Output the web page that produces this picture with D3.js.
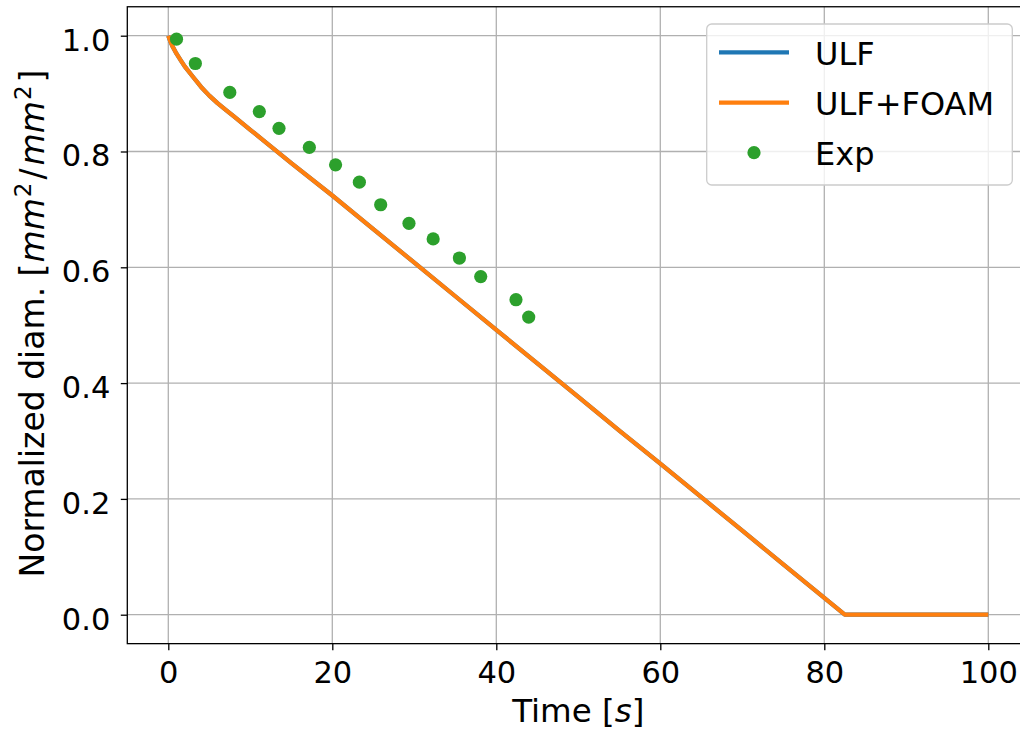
<!DOCTYPE html>
<html>
<head>
<meta charset="utf-8">
<script src="https://cdn.jsdelivr.net/npm/d3@7"></script>
<style>
  html, body { margin: 0; padding: 0; background: #fff; }
  svg { display: block; font-family: "DejaVu Sans", sans-serif; }
</style>
</head>
<body>
<svg id="chart" width="1020" height="731"></svg>
<script>
// ---- Data ----
const simTime = [0, 0.25, 0.5, 1, 1.5, 2, 3, 4, 5, 6, 7, 8, 10, 12, 15, 20, 25, 30, 35, 40, 45, 50, 55, 60, 65, 70, 75, 80, 82.5, 85, 90, 95, 100];
const ulfValues = [1.0, 0.990, 0.982, 0.969, 0.958, 0.947, 0.929, 0.9115, 0.8965, 0.8835, 0.872, 0.8605, 0.8375, 0.8145, 0.780, 0.724, 0.666, 0.608, 0.550, 0.492, 0.434, 0.376, 0.318, 0.261, 0.203, 0.145, 0.087, 0.029, 0.0, 0.0, 0.0, 0.0, 0.0];
const ulfFoamValues = [1.0, 0.990, 0.982, 0.969, 0.958, 0.947, 0.929, 0.9115, 0.8965, 0.8835, 0.872, 0.8605, 0.8375, 0.8145, 0.780, 0.724, 0.666, 0.608, 0.550, 0.492, 0.434, 0.376, 0.318, 0.261, 0.203, 0.145, 0.087, 0.029, 0.0, 0.0, 0.0, 0.0, 0.0];
const expTime = [1.0, 3.3, 7.5, 11.1, 13.5, 17.2, 20.4, 23.3, 25.9, 29.35, 32.3, 35.5, 38.1, 42.4, 43.95];
const expValues = [0.994, 0.952, 0.902, 0.869, 0.840, 0.807, 0.777, 0.747, 0.708, 0.676, 0.649, 0.616, 0.584, 0.544, 0.514];
const xTicks = [0, 20, 40, 60, 80, 100];
const yTicks = [0.0, 0.2, 0.4, 0.6, 0.8, 1.0];
const legendLabels = ["ULF", "ULF+FOAM", "Exp"];

// ---- Layout ----
const pLeft = 127.3, pRight = 1029.3, pTop = 6.75, pBottom = 643.65;
const FS = 30.5, LFS = 32.5, YFS = 33, GFS = 32;
const svg = d3.select("#chart");
const x = d3.scaleLinear().domain([-5, 105]).range([pLeft, pRight]);
const y = d3.scaleLinear().domain([-0.05, 1.05]).range([pBottom, pTop]);

// grid
const grid = svg.append("g");
grid.selectAll(".gx").data(xTicks).join("line")
  .attr("x1", d => x(d)).attr("x2", d => x(d)).attr("y1", pTop).attr("y2", pBottom)
  .attr("stroke", "#b0b0b0").attr("stroke-width", 1.3);
grid.selectAll(".gy").data(yTicks).join("line")
  .attr("y1", d => y(d)).attr("y2", d => y(d)).attr("x1", pLeft).attr("x2", pRight)
  .attr("stroke", "#b0b0b0").attr("stroke-width", 1.3);

// lines
const line = d3.line().x(d => x(d[0])).y(d => y(d[1]));
svg.append("path").datum(simTime.map((t, i) => [t, ulfValues[i]]))
  .attr("d", line).attr("fill", "none").attr("stroke", "#1f77b4").attr("stroke-width", 4.2)
  .attr("stroke-linejoin", "round").attr("stroke-linecap", "butt");
svg.append("path").datum(simTime.map((t, i) => [t, ulfFoamValues[i]]))
  .attr("d", line).attr("fill", "none").attr("stroke", "#ff7f0e").attr("stroke-width", 4.2)
  .attr("stroke-linejoin", "round").attr("stroke-linecap", "butt");

// exp dots
svg.append("g").selectAll("circle").data(expTime.map((t, i) => [t, expValues[i]])).join("circle")
  .attr("cx", d => x(d[0])).attr("cy", d => y(d[1])).attr("r", 6.6).attr("fill", "#2ca02c");

// spines
svg.append("rect").attr("x", pLeft).attr("y", pTop).attr("width", pRight - pLeft).attr("height", pBottom - pTop)
  .attr("fill", "none").attr("stroke", "#000").attr("stroke-width", 1.3);

// axes
const xAxis = d3.axisBottom(x).tickValues(xTicks).tickSize(6.5).tickPadding(11).tickFormat(d3.format("d"));
const gx = svg.append("g").attr("transform", `translate(0,${pBottom})`).call(xAxis);
gx.select(".domain").remove();
gx.selectAll(".tick line").attr("stroke", "#000").attr("stroke-width", 1.3);
gx.selectAll(".tick text").attr("font-size", FS).attr("fill", "#000").attr("font-family", "DejaVu Sans");

const yAxis = d3.axisLeft(y).tickValues(yTicks).tickSize(6.5).tickPadding(10.5).tickFormat(d3.format(".1f"));
const gy = svg.append("g").attr("transform", `translate(${pLeft},0)`).call(yAxis);
gy.select(".domain").remove();
gy.selectAll(".tick line").attr("stroke", "#000").attr("stroke-width", 1.3);
gy.selectAll(".tick text").attr("font-size", FS).attr("fill", "#000").attr("font-family", "DejaVu Sans")
  .attr("dy", null).attr("y", 14.3);

// axis labels
const xl = svg.append("text").attr("x", (pLeft + pRight) / 2).attr("y", 722).attr("text-anchor", "middle")
  .attr("font-size", LFS).attr("fill", "#000");
xl.append("tspan").text("Time [");
xl.append("tspan").attr("font-style", "italic").text("s");
xl.append("tspan").text("]");

const yl = svg.append("text").attr("transform", `translate(43.5,${(65 + 582) / 2}) rotate(-90)`)
  .attr("text-anchor", "middle").attr("font-size", YFS).attr("fill", "#000");
yl.append("tspan").text("Normalized diam. [");
yl.append("tspan").attr("font-style", "italic").attr("dx", 1).text("mm");
yl.append("tspan").attr("font-size", YFS * 0.7).attr("dx", 1).attr("dy", -13).text("2");
yl.append("tspan").attr("dx", 3).attr("dy", 13).text("/");
yl.append("tspan").attr("font-style", "italic").attr("dx", 3).text("mm");
yl.append("tspan").attr("font-size", YFS * 0.7).attr("dx", 1).attr("dy", -13).text("2");
yl.append("tspan").attr("dx", 3).attr("dy", 13).text("]");

// legend
const lg = svg.append("g");
lg.append("rect").attr("x", 706.7).attr("y", 24).attr("width", 305.6).attr("height", 161).attr("rx", 5)
  .attr("fill", "#fff").attr("fill-opacity", 0.8).attr("stroke", "#cccccc").attr("stroke-width", 1.3);
const legendColors = ["#1f77b4", "#ff7f0e", "#2ca02c"];
const rowY = [52.3, 102.7, 152.7];
legendLabels.forEach((lab, i) => {
  if (i < 2) {
    lg.append("line").attr("x1", 719).attr("x2", 789).attr("y1", rowY[i]).attr("y2", rowY[i])
      .attr("stroke", legendColors[i]).attr("stroke-width", 4.2);
  } else {
    lg.append("circle").attr("cx", 754).attr("cy", rowY[i]).attr("r", 6.6).attr("fill", legendColors[i]);
  }
  lg.append("text").attr("x", 815).attr("y", rowY[i] + 12.5).attr("font-size", GFS).attr("fill", "#000").text(lab);
});
</script>
</body>
</html>
